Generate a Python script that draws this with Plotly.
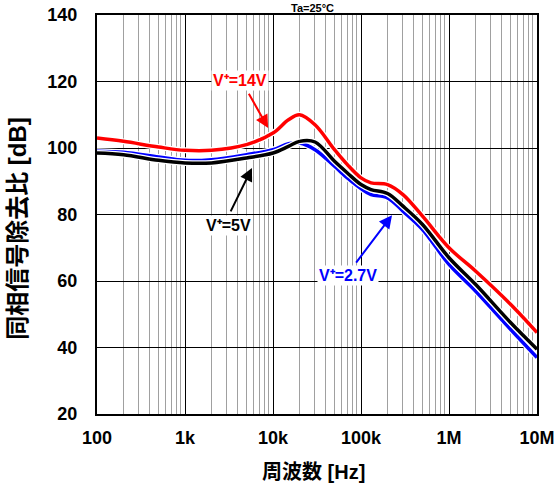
import math
import plotly.graph_objects as go

# Frequency points [Hz]
freq = [100, 200, 500, 1e3, 2e3, 5e3, 1e4, 1.5e4, 2e4, 3e4, 5e4, 7e4,
        1e5, 1.3e5, 2e5, 3e5, 5e5, 1e6, 2e6, 5e6, 1e7]

# Common-mode rejection ratio [dB] for each supply voltage
cmrr_14v = [103, 102, 100.3, 99.3, 99.3, 101, 104.5, 108.5, 110, 107, 99.5, 95,
            91, 89.5, 89, 86, 79.5, 70, 63, 53, 44.5]
cmrr_5v = [98.5, 98, 96.3, 95.5, 95.5, 97, 98.5, 100.5, 102, 101.8, 96, 92.5,
           89, 87.5, 86.3, 82.5, 77, 67, 59, 47.5, 39.5]
cmrr_2v7 = [99, 98.7, 97.3, 96.3, 96.5, 98, 99.5, 101.3, 101.5, 99.5, 94.5, 91,
            87.8, 86, 85, 81, 75.5, 65, 57, 45.5, 37]

x_tickvals = [1e2, 1e3, 1e4, 1e5, 1e6, 1e7]
x_ticktext = ["100", "1k", "10k", "100k", "1M", "10M"]
y_tickvals = [20, 40, 60, 80, 100, 120, 140]

series = [
    ("V⁺=2.7V", cmrr_2v7, "#0000ff"),
    ("V⁺=5V", cmrr_5v, "#000000"),
    ("V⁺=14V", cmrr_14v, "#ff0000"),
]

FONT = "Liberation Sans, Arial, Noto Sans CJK JP, sans-serif"

fig = go.Figure()
for name, vals, color in series:
    # thin white halo under each curve
    fig.add_trace(go.Scatter(x=freq, y=vals, mode="lines", line_shape="spline",
                             line=dict(color="white", width=6), hoverinfo="skip",
                             showlegend=False))
    fig.add_trace(go.Scatter(x=freq, y=vals, mode="lines", line_shape="spline",
                             line=dict(color=color, width=3.5), name=name,
                             showlegend=False))

# label text, colour, label position, arrow tail, arrow head
labels = [
    ("V⁺=14V", "#ff0000", (4.2e3, 120.2), (5.2e3, 116.8), (8.8e3, 106)),
    ("V⁺=5V", "#000000", (3.16e3, 76.8), (3.24e3, 80.5), (5.77e3, 94)),
    ("V⁺=2.7V", "#0000ff", (7.1e4, 61.8), (8.55e4, 65.1), (2.25e5, 79.8)),
]
for text, color, pos, tail, head in labels:
    fig.add_annotation(x=math.log10(head[0]), y=head[1], ax=math.log10(tail[0]), ay=tail[1],
                       xref="x", yref="y", axref="x", ayref="y", text="",
                       showarrow=True, arrowhead=2, arrowsize=1.3, arrowwidth=2,
                       arrowcolor=color)
    fig.add_annotation(x=math.log10(pos[0]), y=pos[1], xref="x", yref="y", text=text,
                       showarrow=False, bgcolor="white", borderpad=1,
                       font=dict(family=FONT, size=16, color=color, weight="bold"))

fig.add_annotation(text="Ta=25°C", xref="paper", yref="paper", x=0.49, y=1.0,
                   yshift=0, yanchor="bottom", showarrow=False, borderpad=0,
                   font=dict(family=FONT, size=11, color="black", weight="bold"))
fig.add_annotation(text="周波数 [Hz]", xref="paper", yref="paper", x=0.493, xanchor="center",
                   y=0, yshift=-58, yanchor="middle", showarrow=False,
                   font=dict(family=FONT, size=20, color="black", weight="bold"))
fig.add_annotation(text="同相信号除去比 [dB]", xref="paper", yref="paper", x=0, xshift=-79,
                   xanchor="center", y=0.464, yanchor="middle", textangle=-90,
                   showarrow=False,
                   font=dict(family=FONT, size=24, color="black", weight="bold"))

fig.update_xaxes(type="log", range=[2, 7], tickvals=x_tickvals, ticktext=x_ticktext,
                 showgrid=True, gridcolor="#000000", gridwidth=1,
                 minor=dict(dtick="D1", showgrid=True, gridcolor="#a0a0a0", gridwidth=1,
                            ticks=""),
                 showline=True, linecolor="black", linewidth=2, mirror=True,
                 ticks="", ticklabelstandoff=6, zeroline=False, automargin=False,
                 tickfont=dict(family=FONT, size=18, color="black", weight="bold"))
fig.update_yaxes(range=[20, 140], tickvals=y_tickvals,
                 showgrid=True, gridcolor="#000000", gridwidth=1,
                 showline=True, linecolor="black", linewidth=2, mirror=True,
                 ticks="", ticklabelstandoff=14, zeroline=False, automargin=False,
                 tickfont=dict(family=FONT, size=18, color="black", weight="bold"))

fig.update_layout(width=558, height=487, margin=dict(l=97, r=21, t=15, b=73),
                  paper_bgcolor="white", plot_bgcolor="white", showlegend=False)

fig.write_html("out.html")
